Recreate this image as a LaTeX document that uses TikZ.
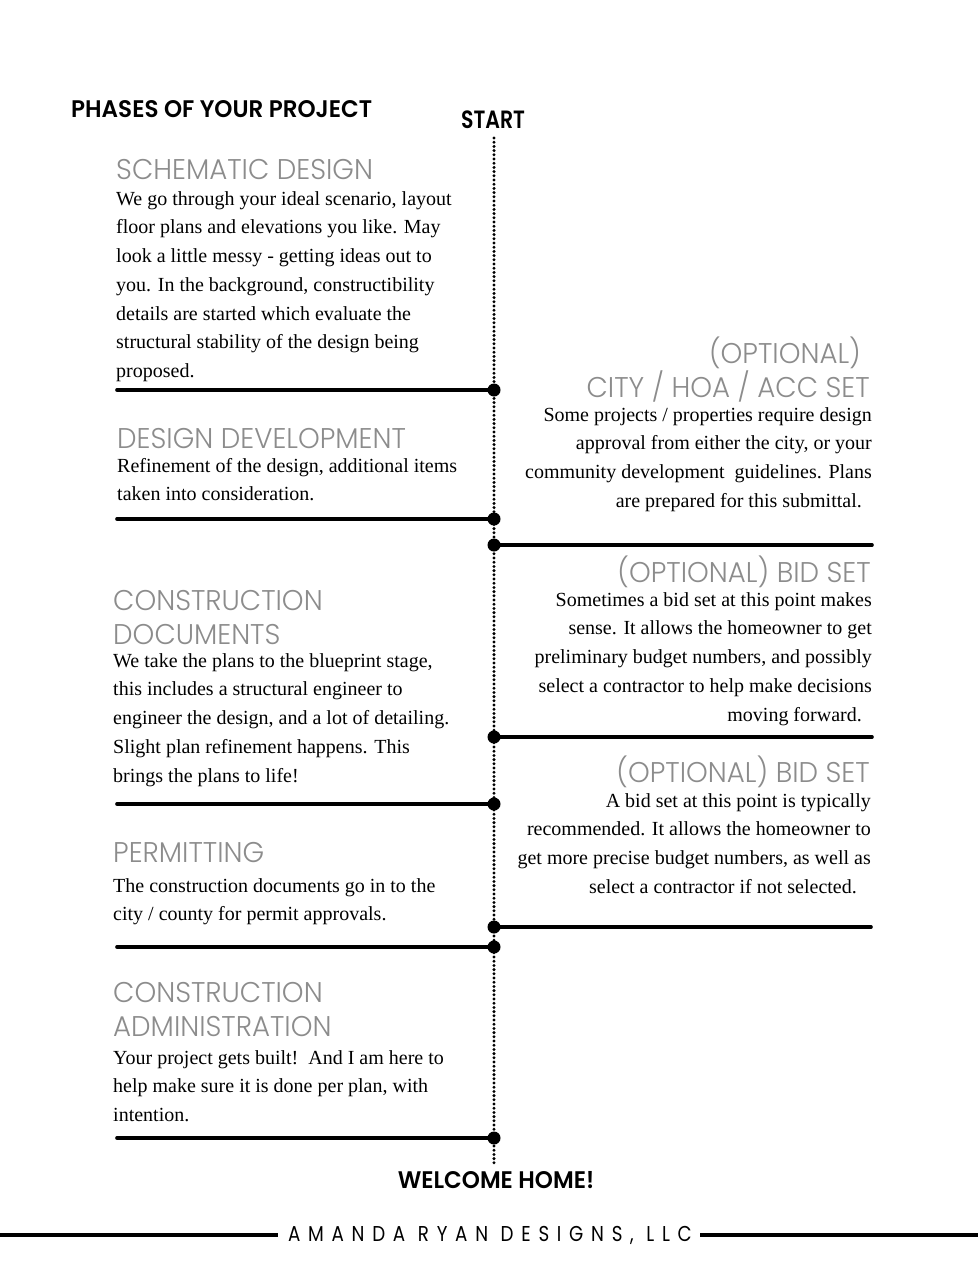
\documentclass[tikz,border=0pt]{standalone}
\usepackage{fontspec}
\setmainfont{Liberation Serif}
\IfFontExistsTF{Poppins Light}
  {\newfontfamily\hfont{Poppins Light}[FakeStretch=0.97]}
  {\newfontfamily\hfont{Poppins}[FakeStretch=0.97]}
\newfontfamily\ffont{Poppins}[FakeStretch=0.85,LetterSpace=36]
\IfFontExistsTF{Poppins SemiBold}
  {\newfontfamily\bfont{Poppins SemiBold}[FakeStretch=0.96]
   \newfontfamily\bnfont{Poppins SemiBold}[FakeStretch=0.82]}
  {\IfFontExistsTF{Poppins Medium}
    {\newfontfamily\bfont{Poppins Medium}[FakeStretch=0.96]
     \newfontfamily\bnfont{Poppins Medium}[FakeStretch=0.82]}
    {\newfontfamily\bfont{Poppins}[FakeStretch=0.96]
     \newfontfamily\bnfont{Poppins}[FakeStretch=0.82]}}
\definecolor{hgray}{RGB}{140,140,140}
\tikzset{
  headtxt/.style={font=\hfont\fontsize{28.5}{34.5}\selectfont, text=hgray, inner sep=0pt},
  bodytxt/.style={font=\fontsize{20}{28.7}\selectfont, text=black, inner sep=0pt},
  titletxt/.style={font=\bfont\fontsize{24}{28}\selectfont, inner sep=0pt},
  bar/.style={line width=3.6pt, line cap=round},
  hub/.style={circle, fill=black, inner sep=0pt, minimum size=13pt},
  tline/.style={line width=3.3pt, line cap=round, dash pattern=on 0pt off 4.2pt},
  footbar/.style={line width=4pt},
}
\begin{document}
\begin{tikzpicture}[x=1pt,y=-1pt]
\useasboundingbox (0,0) rectangle (978,1266);
\fill[white] (0,0) rectangle (978,1266);

% titles
\node[titletxt, anchor=base west] (title) at (71,117) {PHASES OF YOUR PROJECT};
\node[titletxt, font=\bnfont\fontsize{25}{28}\selectfont, anchor=base] (start) at (493,128) {START};
\node[titletxt, anchor=base] (home) at (496,1188) {WELCOME HOME!};
\node[font=\ffont\fontsize{21.5}{24}\selectfont, inner sep=0pt, anchor=base] (foot) at (490,1241) {AMANDA RYAN DESIGNS, LLC};

% timeline
\coordinate (ttop) at (494,138);
\coordinate (tbot) at (494,1163);
\draw[tline] (ttop) -- (tbot);

% footer lines
\coordinate (fl1) at (0,1235);
\coordinate (fl2) at (278,1235);
\coordinate (fr1) at (700,1235);
\coordinate (fr2) at (978,1235);
\draw[footbar] (fl1) -- (fl2);
\draw[footbar] (fr1) -- (fr2);

% hubs
\node[hub] (h1) at (494,390) {};
\node[hub] (h2) at (494,519) {};
\node[hub] (h3) at (494,545) {};
\node[hub] (h4) at (494,737) {};
\node[hub] (h5) at (494,804) {};
\node[hub] (h6) at (494,927) {};
\node[hub] (h7) at (494,947) {};
\node[hub] (h8) at (494,1138) {};

% bars
\coordinate (e1) at (117,390);
\coordinate (e2) at (117,519);
\coordinate (e3) at (872,545);
\coordinate (e4) at (872,737);
\coordinate (e5) at (117,804);
\coordinate (e6) at (871,927);
\coordinate (e7) at (117,947);
\coordinate (e8) at (117,1138);
\draw[bar] (e1) -- (h1.center);
\draw[bar] (e2) -- (h2.center);
\draw[bar] (h3.center) -- (e3);
\draw[bar] (h4.center) -- (e4);
\draw[bar] (e5) -- (h5.center);
\draw[bar] (h6.center) -- (e6);
\draw[bar] (e7) -- (h7.center);
\draw[bar] (e8) -- (h8.center);

% left headings
\node[headtxt, anchor=base west] (sdh) at (116,179) {SCHEMATIC DESIGN};
\node[headtxt, anchor=base west] (ddh) at (117,448) {DESIGN DEVELOPMENT};
\node[headtxt, anchor=base west] (cdh1) at (113,610) {CONSTRUCTION};
\node[headtxt, anchor=base west] (cdh2) at (113,644) {DOCUMENTS};
\node[headtxt, anchor=base west] (peh) at (113,862) {PERMITTING};
\node[headtxt, anchor=base west] (cah1) at (113,1002) {CONSTRUCTION};
\node[headtxt, anchor=base west] (cah2) at (113,1036) {ADMINISTRATION};

% right headings
\node[headtxt, anchor=base east] (cth1) at (861,363) {(OPTIONAL)};
\node[headtxt, anchor=base east] (cth2) at (870,397) {CITY / HOA / ACC SET};
\node[headtxt, anchor=base east] (b1h) at (871,582) {(OPTIONAL) BID SET};
\node[headtxt, anchor=base east] (b2h) at (870,782) {(OPTIONAL) BID SET};

% left bodies (north = first baseline - 20.09)
\node[bodytxt, anchor=north west, align=left] (sdb) at (116,{205-20.09}) {\strut We go through your ideal scenario, layout\\
floor plans and elevations you like. May\\
look a little messy - getting ideas out to\\
you. In the background, constructibility\\
details are started which evaluate the\\
structural stability of the design being\\
proposed.};
\node[bodytxt, anchor=north west, align=left] (ddb) at (117,{472-20.09}) {\strut Refinement of the design, additional items\\
taken into consideration.};
\node[bodytxt, anchor=north west, align=left] (cdb) at (113,{667-20.09}) {\strut We take the plans to the blueprint stage,\\
this includes a structural engineer to\\
engineer the design, and a lot of detailing.\\
Slight plan refinement happens. This\\
brings the plans to life!};
\node[bodytxt, anchor=north west, align=left] (peb) at (113,{892-20.09}) {\strut The construction documents go in to the\\
city / county for permit approvals.};
\node[bodytxt, anchor=north west, align=left] (cab) at (113,{1064-20.09}) {\strut Your project gets built!\ \ And I am here to\\
help make sure it is done per plan, with\\
intention.};

% right bodies
\node[bodytxt, anchor=north east, align=right] (ctb) at (872,{421-20.09}) {\strut Some projects / properties require design\\
approval from either the city, or your\\
community development\ \ guidelines. Plans\\
are prepared for this submittal.\hspace*{10pt}};
\node[bodytxt, anchor=north east, align=right] (b1b) at (872,{606-20.09}) {\strut Sometimes a bid set at this point makes\\
sense. It allows the homeowner to get\\
preliminary budget numbers, and possibly\\
select a contractor to help make decisions\\
moving forward.\hspace*{10pt}};
\node[bodytxt, anchor=north east, align=right] (b2b) at (871,{807-20.09}) {\strut A bid set at this point is typically\\
recommended. It allows the homeowner to\\
get more precise budget numbers, as well as\\
select a contractor if not selected.\hspace*{14pt}};
\end{tikzpicture}
\end{document}
